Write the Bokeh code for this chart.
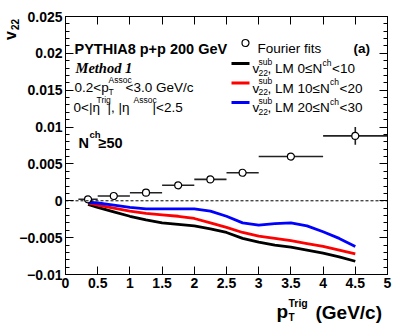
import math
from bokeh.plotting import figure
from bokeh.models import (Label, Span, SingleIntervalTicker, LinearAxis,
                          CustomJSTickFormatter, Range1d, ColumnDataSource)
from bokeh.embed import file_html
from bokeh.resources import INLINE

# ---------------- data ----------------
fit_x = [0.35, 0.75, 1.25, 1.75, 2.25, 2.75, 3.5, 4.5]
fit_xlo = [0.2, 0.5, 1.0, 1.5, 2.0, 2.5, 3.0, 4.0]
fit_xhi = [0.5, 1.0, 1.5, 2.0, 2.5, 3.0, 4.0, 5.0]
fit_y = [0.0002, 0.00065, 0.0011, 0.0021, 0.0029, 0.0038, 0.0060, 0.0088]
fit_err = [0.0001, 0.0001, 0.0001, 0.0001, 0.0002, 0.0002, 0.0003, 0.0012]

curve_x = [0.35, 0.5, 0.75, 1.0, 1.25, 1.5, 1.75, 2.0, 2.25, 2.5, 2.75, 3.0,
           3.25, 3.5, 3.75, 4.0, 4.25, 4.5]
lm_0_10 = [-0.0005, -0.0009, -0.0015, -0.0021, -0.0026, -0.0030, -0.0032, -0.0034,
           -0.0038, -0.0043, -0.0051, -0.0056, -0.0060, -0.0063, -0.0067, -0.0071,
           -0.0076, -0.0082]
lm_10_20 = [-0.0003, -0.0006, -0.0010, -0.0014, -0.0017, -0.0019, -0.0021, -0.0024,
            -0.0030, -0.0036, -0.0043, -0.0048, -0.0051, -0.0054, -0.0058, -0.0062,
            -0.0067, -0.0072]
lm_20_30 = [-0.0002, -0.0003, -0.0006, -0.0009, -0.0011, -0.0011, -0.0011, -0.0011,
            -0.0014, -0.0021, -0.0030, -0.0033, -0.0031, -0.0030, -0.0034, -0.0042,
            -0.0051, -0.0062]
legend_lo = ["0", "10", "20"]
legend_hi = ["10", "20", "30"]
colors = ["black", "#ff0000", "#0000ff"]

# ---------------- geometry helpers (page px -> data) ----------------
FL, FR, FT, FB = 65.0, 387.0, 16.0, 274.0
XMIN, XMAX, YMIN, YMAX = 0.0, 5.0, -0.01, 0.025
W, H = 407, 323


def X(px):
    return XMIN + (px - FL) / (FR - FL) * (XMAX - XMIN)


def Y(py):
    return YMAX - (py - FT) / (FB - FT) * (YMAX - YMIN)


p = figure(output_backend="svg", toolbar_location=None,
           frame_width=int(FR - FL), frame_height=int(FB - FT),
           min_border_left=int(FL), min_border_right=int(W - FR),
           min_border_top=int(FT), min_border_bottom=int(H - FB),
           x_range=Range1d(XMIN, XMAX), y_range=Range1d(YMIN, YMAX))
p.grid.visible = False
p.outline_line_color = "black"
p.outline_line_width = 1
p.background_fill_color = "white"
p.border_fill_color = "white"

FONT = "Liberation Sans"

xt = SingleIntervalTicker(interval=0.5, num_minor_ticks=0)
yt = SingleIntervalTicker(interval=0.005, num_minor_ticks=5)

xa = p.xaxis[0]
xa.ticker = xt
xa.formatter = CustomJSTickFormatter(code="return parseFloat(tick.toFixed(3)).toString();")
ya = p.yaxis[0]
ya.ticker = yt
ya.formatter = CustomJSTickFormatter(
    code="var s = parseFloat(tick.toFixed(4)).toString(); return s.replace('-', '\u2212');")
for ax in (xa, ya):
    ax.major_label_text_font = FONT
    ax.major_label_text_font_style = "bold"
    ax.major_label_text_font_size = "14px"
    ax.major_label_text_color = "black"
    ax.major_tick_in = 8
    ax.major_tick_out = 0
    ax.minor_tick_in = 4
    ax.minor_tick_out = 0
    ax.axis_line_color = "black"
    ax.major_tick_line_color = "black"
    ax.minor_tick_line_color = "black"
xa.minor_tick_line_color = None
xa.major_label_standoff = 3
ya.major_label_standoff = 3

blank = CustomJSTickFormatter(code="return '';")
top = LinearAxis(ticker=xt, formatter=blank, major_tick_in=8, major_tick_out=0,
                 minor_tick_line_color=None, major_label_text_font_size="0px",
                 major_label_standoff=0, axis_line_color="black")
right = LinearAxis(ticker=yt, formatter=blank, major_tick_in=8, major_tick_out=0,
                   minor_tick_in=4, minor_tick_out=0, major_label_text_font_size="0px",
                   major_label_standoff=0, axis_line_color="black")
p.add_layout(top, "above")
p.add_layout(right, "right")

# zero line
p.add_layout(Span(location=0, dimension="width", line_color="black",
                  line_width=1, line_dash="3 2"))

# curves
for ys, c in zip([lm_0_10, lm_10_20, lm_20_30], colors):
    p.line(curve_x, ys, line_color=c, line_width=2.8)

# Fourier fit points
src = ColumnDataSource(dict(x=fit_x, lo=fit_xlo, hi=fit_xhi, y=fit_y,
                            ylo=[a - b for a, b in zip(fit_y, fit_err)],
                            yhi=[a + b for a, b in zip(fit_y, fit_err)]))
p.segment(x0="lo", y0="y", x1="hi", y1="y", source=src, line_color="#222222", line_width=1.6)
p.segment(x0="x", y0="ylo", x1="x", y1="yhi", source=src, line_color="#222222", line_width=1.6)
p.scatter(x="x", y="y", source=src, size=7, marker="circle",
          fill_color="white", line_color="black", line_width=1.2)


def txt(s, px, py, size=13.5, style="normal", font=FONT, align="left",
        baseline="alphabetic", angle=0, place="center"):
    lab = Label(x=X(px), y=Y(py), text=s, text_font=font, text_font_size=f"{size}px",
                text_font_style=style, text_align=align, text_baseline=baseline,
                angle=angle, text_color="black")
    p.add_layout(lab, place)


# text block
txt("PYTHIA8 p+p 200 GeV", 74, 48, 14.5, "bold")
txt("Method 1", 75, 67, 14.5, "bold italic", font="Liberation Serif")
txt("0.2<p", 74, 87)
txt("T", 108, 91, 8.5)
txt("Assoc", 108, 79, 8.5)
txt("<3.0 GeV/c", 125, 87)
txt("0<|\u03b7", 73, 107)
txt("Trig", 96, 99, 8.5)
txt("|, |\u03b7", 107, 107)
txt("Assoc", 133, 99, 8.5)
txt("|<2.5", 152, 107)
txt("N", 78, 142, 14.5, "bold")
txt("ch", 89, 134, 9.5, "bold")
txt("\u226550", 98, 142, 14.5, "bold")

# legend
p.scatter(x=[X(245)], y=[Y(42.5)], size=7, marker="circle", fill_color="white",
          line_color="black", line_width=1.2)
txt("Fourier fits", 257, 48)
txt("(a)", 353, 48, 13.5, "bold")
for i, (lo, hi, c) in enumerate(zip(legend_lo, legend_hi, colors)):
    yc = 63 + 19.5 * i
    p.line([X(231), X(249)], [Y(yc), Y(yc)], line_color=c, line_width=2.8)
    b = yc + 5
    txt("v", 252, b)
    txt("22", 258, b + 4, 8.5)
    txt("sub", 258, b - 7, 8.5)
    s = f", LM {lo}\u2264N"
    txt(s, 267, b)
    off = 55 if lo == "0" else 62.5
    txt("ch", 267 + off, b - 6, 8.5)
    txt(f"<{hi}", 267 + off + 9.5, b)

# axis titles (placed in the bottom side panel so they are not clipped to the frame
# and do not push the frame sideways)
txt("v", 9.5, 35, 16, "bold", align="center", baseline="middle", angle=math.pi / 2, place="below")
txt("22", 14.5, 24, 10, "bold", align="center", baseline="middle", angle=math.pi / 2, place="below")
txt("p", 276, 311, 19, "bold", place="below")
txt("T", 288, 316.5, 10, "bold", place="below")
txt("Trig", 288, 302, 10.5, "bold", place="below")
txt("(GeV/c)", 315, 311.5, 19, "bold", place="below")

open("out.html", "w").write(file_html(p, INLINE))
